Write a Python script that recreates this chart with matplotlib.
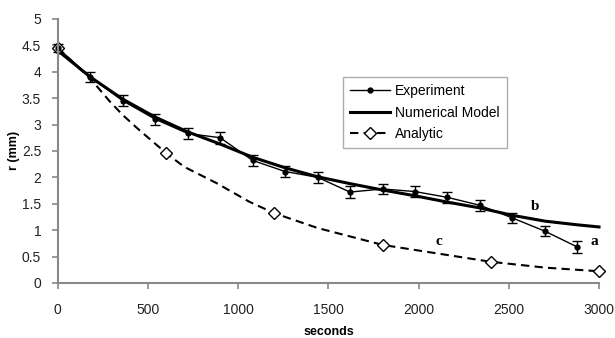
import matplotlib
matplotlib.use("Agg")
from matplotlib import pyplot as plt
from matplotlib.lines import Line2D

# experiment (a)
exp_t = [0, 180, 360, 540, 720, 900, 1080, 1260, 1440, 1620, 1800, 1980,
         2160, 2340, 2520, 2700, 2880]
exp_r = [4.45, 3.90, 3.45, 3.10, 2.83, 2.75, 2.32, 2.11, 2.00, 1.72, 1.78,
         1.73, 1.62, 1.47, 1.23, 0.98, 0.68]
exp_err = [0.08, 0.09, 0.1, 0.1, 0.1, 0.11, 0.1, 0.1, 0.1, 0.11, 0.1, 0.1,
           0.1, 0.1, 0.1, 0.1, 0.11]

# numerical model (b)
num_t = [0, 180, 360, 540, 720, 900, 1080, 1260, 1440, 1620, 1800, 1980,
         2160, 2340, 2520, 2700, 2880, 3000]
num_r = [4.40, 3.90, 3.48, 3.14, 2.86, 2.63, 2.38, 2.18, 2.01, 1.88, 1.76,
         1.65, 1.53, 1.42, 1.28, 1.17, 1.10, 1.06]

# analytic (c), diamonds drawn every 600 s
ana_t = [0, 180, 290, 360, 450, 600, 700, 880, 1060, 1200, 1440, 1620, 1800,
         2100, 2400, 2700, 3000]
ana_r = [4.45, 3.87, 3.43, 3.18, 2.90, 2.46, 2.20, 1.89, 1.54, 1.32, 1.04,
         0.88, 0.72, 0.56, 0.40, 0.29, 0.22]

x_ticks = [0, 500, 1000, 1500, 2000, 2500, 3000]
y_ticks = [0, 0.5, 1, 1.5, 2, 2.5, 3, 3.5, 4, 4.5, 5]

plt.rcParams["font.family"] = ["Liberation Sans", "DejaVu Sans"]

fig = plt.figure(figsize=(6.15, 3.38), dpi=100)
ax = fig.add_axes([0.094, 0.163, 0.880, 0.781])

ax.errorbar(exp_t, exp_r, yerr=exp_err, color="black", lw=1.0,
            marker="o", ms=3.5, capsize=3.5, elinewidth=1.0, capthick=1.0,
            clip_on=False)
ax.plot(num_t, num_r, color="black", lw=2.2, clip_on=False)
marks = [i for i, t in enumerate(ana_t) if t % 600 == 0]
dash = (0, (4, 2.5))
ax.plot(ana_t, ana_r, color="black", lw=1.5, ls=dash,
        marker="D", ms=6, mfc="white", mec="black", mew=1.0,
        markevery=marks, clip_on=False)

for txt, t, r in [("a", 2975, 0.78), ("b", 2645, 1.44), ("c", 2115, 0.78)]:
    ax.text(t, r, txt, family=["Liberation Serif", "DejaVu Serif"],
            fontweight="bold", fontsize=11, ha="center", va="center")

ax.set_xlim(0, 3000)
ax.set_ylim(0, 5)
ax.set_xticks(x_ticks)
ax.set_yticks(y_ticks)
ax.set_yticklabels([f"{v:g}" for v in y_ticks])
for s in ["top", "right"]:
    ax.spines[s].set_visible(False)
for s in ["left", "bottom"]:
    ax.spines[s].set_color("#888888")
    ax.spines[s].set_linewidth(1.5)
ax.tick_params(colors="#888888", labelcolor="#222222", labelsize=10,
               length=4, width=1.2, direction="out")
ax.tick_params(axis="x", pad=10.5)
ax.tick_params(axis="y", pad=8)
ax.set_xlabel("seconds", fontweight="bold", fontsize=9, labelpad=6.5)
ax.set_ylabel("r (mm)", fontweight="bold", fontsize=9, labelpad=1)

handles = [
    Line2D([], [], color="black", lw=1.0, marker="o", ms=3.5),
    Line2D([], [], color="black", lw=2.2),
    Line2D([], [], color="black", lw=1.5, ls=dash, marker="D", ms=6,
           mfc="white", mec="black", mew=1.0),
]
labels = ["Experiment", "Numerical Model", "Analytic"]
leg = ax.legend(handles, labels, loc="upper left",
                bbox_to_anchor=(0.527, 0.78), fontsize=10, frameon=True,
                fancybox=False, handlelength=2.9, handletextpad=0.35,
                borderpad=0.5, labelspacing=0.55, borderaxespad=0)
leg.get_frame().set_edgecolor("#999999")
leg.get_frame().set_linewidth(1.0)

fig.savefig("out.png", dpi=100)
